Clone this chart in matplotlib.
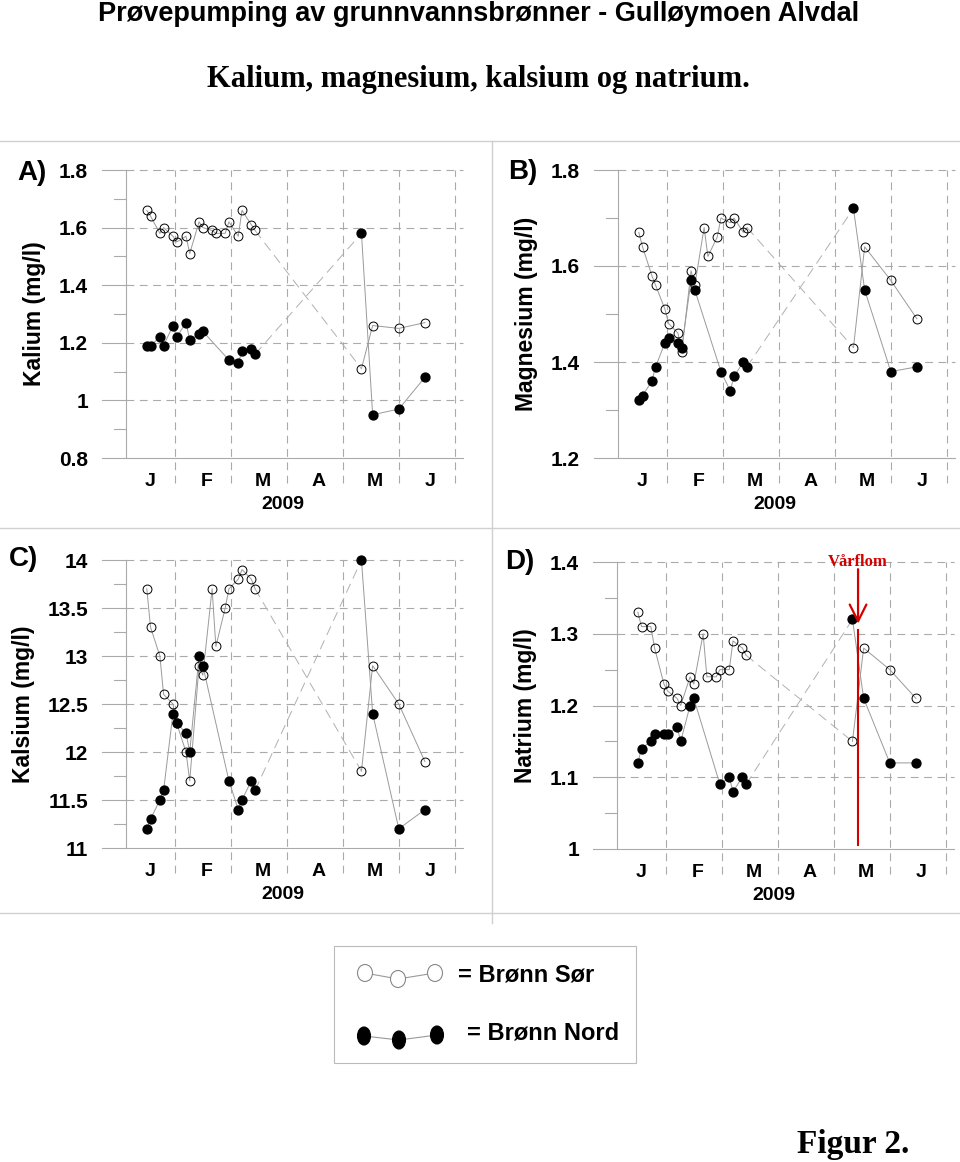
import numpy as np
import pandas as pd
import matplotlib
matplotlib.use("Agg")
import matplotlib.pyplot as plt
from matplotlib.patches import Ellipse, Rectangle

plt.rcParams['font.family'] = ['Liberation Sans', 'DejaVu Sans']
plt.rcParams['font.weight'] = 'bold'
plt.rcParams['axes.labelweight'] = 'bold'
SERIF = ['Liberation Serif', 'DejaVu Serif']

# prøvetakingsdatoer (Nord mangler 20., 22. og 27. februar)
datoer_sor = ["2009-01-16", "2009-01-18", "2009-01-23", "2009-01-25", "2009-01-30",
              "2009-02-01", "2009-02-06", "2009-02-08", "2009-02-13", "2009-02-15",
              "2009-02-20", "2009-02-22", "2009-02-27", "2009-03-01", "2009-03-06",
              "2009-03-08", "2009-03-13", "2009-03-15",
              "2009-05-11", "2009-05-17", "2009-05-31", "2009-06-14"]
datoer_nord = ["2009-01-16", "2009-01-18", "2009-01-23", "2009-01-25", "2009-01-30",
               "2009-02-01", "2009-02-06", "2009-02-08", "2009-02-13", "2009-02-15",
               "2009-03-01", "2009-03-06", "2009-03-08", "2009-03-13", "2009-03-15",
               "2009-05-11", "2009-05-17", "2009-05-31", "2009-06-14"]

kalium_sor = [1.66, 1.64, 1.58, 1.60, 1.57, 1.55, 1.57, 1.51, 1.62, 1.60, 1.59, 1.58,
              1.58, 1.62, 1.57, 1.66, 1.61, 1.59, 1.11, 1.26, 1.25, 1.27]
kalium_nord = [1.19, 1.19, 1.22, 1.19, 1.26, 1.22, 1.27, 1.21, 1.23, 1.24,
               1.14, 1.13, 1.17, 1.18, 1.16, 1.58, 0.95, 0.97, 1.08]

magnesium_sor = [1.67, 1.64, 1.58, 1.56, 1.51, 1.48, 1.46, 1.42, 1.59, 1.56, 1.68, 1.62,
                 1.66, 1.70, 1.69, 1.70, 1.67, 1.68, 1.43, 1.64, 1.57, 1.49]
magnesium_nord = [1.32, 1.33, 1.36, 1.39, 1.44, 1.45, 1.44, 1.43, 1.57, 1.55,
                  1.38, 1.34, 1.37, 1.40, 1.39, 1.72, 1.55, 1.38, 1.39]

kalsium_sor = [13.7, 13.3, 13.0, 12.6, 12.5, 12.3, 12.0, 11.7, 12.9, 12.8, 13.7, 13.1,
               13.5, 13.7, 13.8, 13.9, 13.8, 13.7, 11.8, 12.9, 12.5, 11.9]
kalsium_nord = [11.2, 11.3, 11.5, 11.6, 12.4, 12.3, 12.2, 12.0, 13.0, 12.9,
                11.7, 11.4, 11.5, 11.7, 11.6, 14.0, 12.4, 11.2, 11.4]

natrium_sor = [1.33, 1.31, 1.31, 1.28, 1.23, 1.22, 1.21, 1.20, 1.24, 1.23, 1.30, 1.24,
               1.24, 1.25, 1.25, 1.29, 1.28, 1.27, 1.15, 1.28, 1.25, 1.21]
natrium_nord = [1.12, 1.14, 1.15, 1.16, 1.16, 1.16, 1.17, 1.15, 1.20, 1.21,
                1.09, 1.10, 1.08, 1.10, 1.09, 1.32, 1.21, 1.12, 1.12]

vaarflom_dato = "2009-05-14"

panel_labels = ["A)", "B)", "C)", "D)"]
y_titler = ["Kalium (mg/l)", "Magnesium (mg/l)", "Kalsium (mg/l)", "Natrium (mg/l)"]
y_major = [[0.8, 1.0, 1.2, 1.4, 1.6, 1.8],
           [1.2, 1.4, 1.6, 1.8],
           [11, 11.5, 12, 12.5, 13, 13.5, 14],
           [1.0, 1.1, 1.2, 1.3, 1.4]]
y_major_txt = [["0.8", "1", "1.2", "1.4", "1.6", "1.8"],
               ["1.2", "1.4", "1.6", "1.8"],
               ["11", "11.5", "12", "12.5", "13", "13.5", "14"],
               ["1", "1.1", "1.2", "1.3", "1.4"]]
y_minor = [[0.9, 1.1, 1.3, 1.5, 1.7],
           [1.3, 1.5, 1.7],
           [11.25, 11.75, 12.25, 12.75, 13.25, 13.75],
           [1.05, 1.15, 1.25, 1.35]]
maaned_txt = ["J", "F", "M", "A", "M", "J"]
aar_txt = "2009"


def til_dag(datoer):
    d = pd.to_datetime(pd.Series(datoer))
    return (d - pd.Timestamp("2009-01-01")).dt.days.values.astype(float)


W, H = 960, 1162
fig = plt.figure(figsize=(W / 100, H / 100), dpi=100)

# left, top, bottom (px)
plasser = [(102, 170, 458), (594, 170, 458), (102, 560, 848), (593, 562, 849)]
serier = [(kalium_sor, kalium_nord), (magnesium_sor, magnesium_nord),
          (kalsium_sor, kalsium_nord), (natrium_sor, natrium_nord)]

XL, XR, YAX = -9, 184.4, 4
gc = '#aaaaaa'
lc = '#9a9a9a'

d_sor = til_dag(datoer_sor)
d_nord = til_dag(datoer_nord)

axes = []
for i, (l, t, b) in enumerate(plasser):
    ax = fig.add_axes([l / W, 1 - b / H, 361 / W, (b - t) / H])
    axes.append(ax)
    lo, hi = y_major[i][0], y_major[i][-1]
    ax.set_xlim(XL, XR)
    ax.set_ylim(lo, hi)
    for sp in ax.spines.values():
        sp.set_visible(False)

    # grid og akser
    for v in y_major[i][1:]:
        ax.plot([YAX, XR], [v, v], color=gc, lw=0.8, ls=(0, (7, 5)), clip_on=False, zorder=1)
        ax.plot([XL, YAX], [v, v], color=gc, lw=0.8, clip_on=False, zorder=1)
    for v in y_minor[i]:
        ax.plot([-2.5, YAX], [v, v], color=gc, lw=0.8, clip_on=False, zorder=1)
    ax.plot([XL, XR], [lo, lo], color=gc, lw=0.8, clip_on=False, zorder=1)
    ax.plot([YAX, YAX], [lo, hi], color=gc, lw=0.8, clip_on=False, zorder=1)
    for x in range(30, 181, 30):
        ax.axvline(x, ymin=-25 / (b - t), ymax=1, color=gc, lw=0.8, ls=(0, (7, 5)),
                   clip_on=False, zorder=1)

    ax.set_yticks(y_major[i], y_major_txt[i])
    ax.set_xticks(np.arange(0, 180, 30) + 17, maaned_txt)
    ax.tick_params(axis='y', length=0, pad=10, labelsize=15)
    ax.tick_params(axis='x', length=0, pad=11, labelsize=14)
    ax.set_xlabel(aar_txt, fontsize=14, labelpad=4)
    ax.set_ylabel(y_titler[i], fontsize=16.5, labelpad=9)

    # data
    for dager, verdier, fylt in [(d_sor, serier[i][0], False), (d_nord, serier[i][1], True)]:
        v = np.array(verdier, dtype=float)
        pre = dager < 100
        post = ~pre
        ax.plot(dager[pre], v[pre], color=lc, lw=0.7, zorder=2)
        ax.plot(dager[post], v[post], color=lc, lw=0.7, zorder=2)
        ax.plot([dager[pre][-1], dager[post][0]], [v[pre][-1], v[post][0]],
                color='#b0b0b0', lw=0.7, ls=(0, (10, 6)), zorder=2)
        if fylt:
            ax.plot(dager, v, 'o', color='black', ms=6.4, zorder=4, clip_on=False)
        else:
            ax.plot(dager, v, 'o', mfc='none', mec='black', mew=0.7, ms=6.4,
                    zorder=3, clip_on=False)

# Vårflom i D
axd = axes[3]
vd = til_dag([vaarflom_dato])[0]
axd.text(vd, 1.4, "Vårflom", color='#d40000', fontsize=12, fontweight='bold',
         family=SERIF, ha='center', va='center', zorder=6)
axd.annotate("", xy=(vd, 1.314), xytext=(vd, 1.39),
             arrowprops=dict(arrowstyle='->,head_length=1.0,head_width=0.5',
                             color='#d40000', lw=1.6, mutation_scale=12,
                             shrinkA=0, shrinkB=0), zorder=6)
axd.plot([vd, vd], [1.305, 1.006], color='#d40000', lw=1.5, zorder=6)

# overlay i pikselkoordinater
ov = fig.add_axes([0, 0, 1, 1], zorder=-1)
ov.set_xlim(0, W)
ov.set_ylim(H, 0)
ov.axis('off')

fc = '#d0d0d0'
for y in [141, 528, 913]:
    ov.plot([0, W], [y, y], color=fc, lw=1)
ov.plot([492, 492], [141, 923], color=fc, lw=1)

ov2 = fig.add_axes([0, 0, 1, 1])
ov2.set_xlim(0, W)
ov2.set_ylim(H, 0)
ov2.axis('off')
ov2.patch.set_alpha(0)

# tegnforklaring
ov2.add_patch(Rectangle((334, 946), 302, 117, fill=False, ec='#bbbbbb', lw=0.8))
sor_pkt = [(365, 973), (398, 979), (435, 973)]
nord_pkt = [(364, 1036), (399, 1040), (437, 1035)]
ov2.plot(*zip(*sor_pkt), color='#999999', lw=0.8, zorder=1)
ov2.plot(*zip(*nord_pkt), color='#999999', lw=0.8, zorder=1)
for (x, y) in sor_pkt:
    ov2.add_patch(Ellipse((x, y), 15, 17, fc='white', ec='#888888', lw=0.8, zorder=2))
for (x, y) in nord_pkt:
    ov2.add_patch(Ellipse((x, y), 13, 18, fc='black', ec='black', lw=0.8, zorder=2))
ov2.text(458, 975, "= Brønn Sør", fontsize=17, ha='left', va='center')
ov2.text(467, 1033, "= Brønn Nord", fontsize=17, ha='left', va='center')

# panelbokstaver
for txt, (x, y) in zip(panel_labels, [(17, 173), (508, 172), (9, 559), (505, 562)]):
    ov2.text(x, y, txt, fontsize=20, ha='left', va='center')

# titler
ov2.text(479, 21, "Prøvepumping av grunnvannsbrønner - Gulløymoen Alvdal",
         fontsize=19.5, ha='center', va='baseline')
ov2.text(478, 87, "Kalium, magnesium, kalsium og natrium.", family=SERIF,
         fontsize=22, ha='center', va='baseline')
ov2.text(797, 1153, "Figur 2.", family=SERIF, fontsize=24, ha='left', va='baseline')

fig.savefig('out.png', dpi=100)
